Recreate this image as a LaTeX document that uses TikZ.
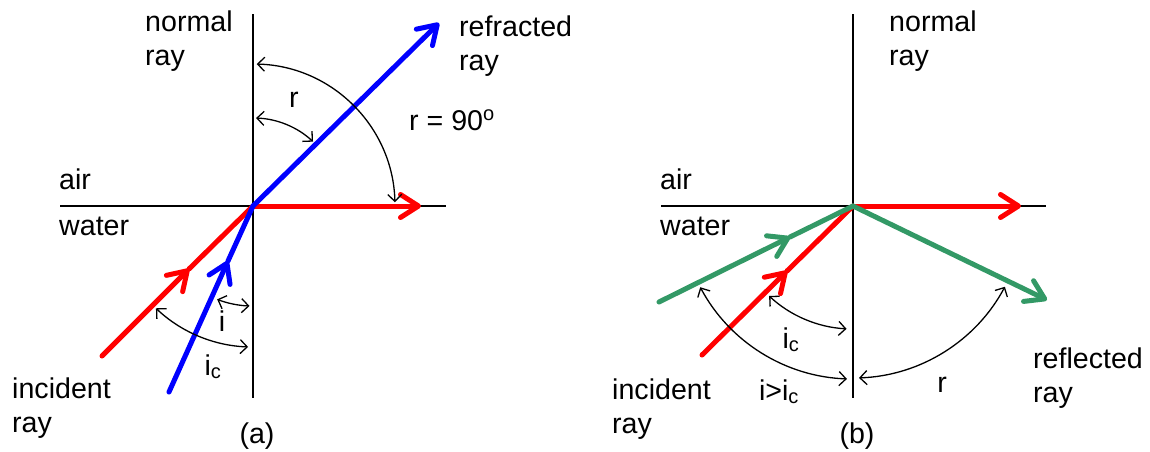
\documentclass[tikz,border=0pt]{standalone}
\usepackage{fontspec}
\setmainfont{Liberation Sans}
\usetikzlibrary{arrows.meta}
\definecolor{rayred}{RGB}{255,0,0}
\definecolor{rayblue}{RGB}{0,0,255}
\definecolor{raygreen}{RGB}{51,153,102}
\begin{document}
\begin{tikzpicture}[x=1pt,y=-1pt,
  axis/.style={line width=1.6pt, black},
  ray/.style={line width=5pt, line cap=round, line join=round},
  bigtip/.style={-{Straight Barb[length=18pt,width=23pt,round]}},
  angarc/.style={line width=1.3pt, {Straight Barb[length=7pt,width=14pt]}-{Straight Barb[length=7pt,width=14pt]}},
  lbl/.style={inner sep=0pt, align=left, font=\fontsize{28.6}{33.5}\selectfont},
]
\useasboundingbox (0,0) rectangle (1150,451);

% ---------- (a) ----------
\coordinate (Oa) at (253,206);
\coordinate (Na1) at (253,14);
\coordinate (Na2) at (253,398);
\coordinate (Sa1) at (60,206);
\coordinate (Sa2) at (446,206);
\coordinate (BlueTipA) at (439,23);
\coordinate (RedTipA) at (421,206);
\coordinate (RedStartA) at (102,356);
\coordinate (RedMidA) at (189,269);
\coordinate (BlueStartA) at (169,392);
\coordinate (BlueMidA) at (228,261);

\draw[axis] (Na1) -- (Na2);
\draw[axis] (Sa1) -- (Sa2);

\draw[ray, rayred, bigtip] (RedStartA) -- (RedMidA);
\draw[ray, rayred] (RedMidA) -- (Oa);
\draw[ray, rayred, bigtip] (Oa) -- (RedTipA);
\draw[ray, rayblue, bigtip] (BlueStartA) -- (BlueMidA);
\draw[ray, rayblue] (BlueMidA) -- (Oa);
\draw[ray, rayblue, bigtip] (Oa) -- (BlueTipA);

\draw[angarc] ([shift={(-88:88)}]Oa) arc[start angle=-88, end angle=-47, radius=88];
\draw[angarc] ([shift={(-88.5:142)}]Oa) arc[start angle=-88.5, end angle=-1.5, radius=142];
\draw[angarc] ([shift={(111:100)}]Oa) arc[start angle=111, end angle=92, radius=100];
\draw[angarc] ([shift={(133.5:141)}]Oa) arc[start angle=133.5, end angle=92, radius=141];

\node[lbl, anchor=base west] (normalA) at (145,65) {normal\\ray};
\node[lbl, anchor=base west] (refrA) at (459,70) {refracted\\ray};
\node[lbl, anchor=base west] (airA) at (59,189) {air};
\node[lbl, anchor=base west] (waterA) at (59,235) {water};
\node[lbl, anchor=base west] (incA) at (12,432) {incident\\ray};
\node[lbl, anchor=base] (rA) at (294,107) {r};
\node[lbl, anchor=base west] (r90A) at (409,130) {r = 90\textsuperscript{o}};
\node[lbl, anchor=base] (iA) at (222,331) {i};
\node[lbl, anchor=base] (icA) at (213,375) {i\textsubscript{c}};
\node[lbl, anchor=base] (capA) at (257,443) {(a)};

% ---------- (b) ----------
\coordinate (Ob) at (853,206);
\coordinate (Nb1) at (853,14);
\coordinate (Nb2) at (853,398);
\coordinate (Sb1) at (661,206);
\coordinate (Sb2) at (1046,206);
\coordinate (RedTipB) at (1021,206);
\coordinate (RedStartB) at (702,355);
\coordinate (RedMidB) at (787,271);
\coordinate (GreenStartB) at (659,302);
\coordinate (GreenMidB) at (790,237);
\coordinate (GreenTipB) at (1047,300);

\draw[axis] (Nb1) -- (Nb2);
\draw[axis] (Sb1) -- (Sb2);

\draw[ray, rayred, bigtip] (RedStartB) -- (RedMidB);
\draw[ray, rayred] (RedMidB) -- (Ob);
\draw[ray, rayred, bigtip] (Ob) -- (RedTipB);
\draw[ray, raygreen, bigtip] (GreenStartB) -- (GreenMidB);
\draw[ray, raygreen] (GreenMidB) -- (Ob);
\draw[ray, raygreen, bigtip] (Ob) -- (GreenTipB);

\draw[angarc] ([shift={(133:123)}]Ob) arc[start angle=133, end angle=93, radius=123];
\draw[angarc] ([shift={(152:173)}]Ob) arc[start angle=152, end angle=92, radius=173];
\draw[angarc] ([shift={(88:172)}]Ob) arc[start angle=88, end angle=28, radius=172];

\node[lbl, anchor=base west] (normalB) at (889,65) {normal\\ray};
\node[lbl, anchor=base west] (airB) at (660,189) {air};
\node[lbl, anchor=base west] (waterB) at (660,235) {water};
\node[lbl, anchor=base west] (incB) at (612,433) {incident\\ray};
\node[lbl, anchor=base west] (reflB) at (1033,402) {reflected\\ray};
\node[lbl, anchor=base] (icB) at (791,348) {i\textsubscript{c}};
\node[lbl, anchor=base] (igtB) at (779,400) {i>i\textsubscript{c}};
\node[lbl, anchor=base] (rB) at (942,392) {r};
\node[lbl, anchor=base] (capB) at (857,443) {(b)};
\end{tikzpicture}
\end{document}
